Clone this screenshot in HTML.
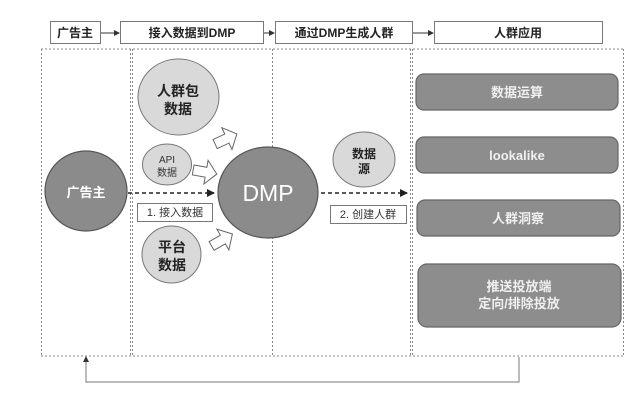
<!DOCTYPE html>
<html><head><meta charset="utf-8"><style>
html,body{margin:0;padding:0;background:#fff;}
svg{display:block;}
text{font-family:"Liberation Sans","Noto Sans CJK SC",sans-serif;}
</style></head><body>
<svg width="640" height="400" viewBox="0 0 640 400" xmlns="http://www.w3.org/2000/svg">
<defs>
<marker id="ah" markerWidth="6" markerHeight="6" refX="5" refY="3" orient="auto" markerUnits="userSpaceOnUse">
<path d="M0,0 L6,3 L0,6 z" fill="#333"/>
</marker>
<marker id="ah2" markerWidth="8" markerHeight="8" refX="7" refY="4" orient="auto" markerUnits="userSpaceOnUse">
<path d="M0,0 L8,4 L0,8 z" fill="#222"/>
</marker>
</defs>
<rect width="640" height="400" fill="#fff"/>

<!-- header boxes -->
<g stroke="#777" stroke-width="1" fill="#fff">
<rect x="50.5" y="21.5" width="50" height="22"/>
<rect x="120.5" y="21.5" width="143" height="22"/>
<rect x="275.5" y="21.5" width="137" height="22"/>
<rect x="434.5" y="21.5" width="168" height="22"/>
</g>
<g font-size="12" font-weight="bold" fill="#222" text-anchor="middle">
<text x="75" y="37">广告主</text>
<text x="192" y="37">接入数据到DMP</text>
<text x="344" y="37">通过DMP生成人群</text>
<text x="518" y="37">人群应用</text>
</g>
<g stroke="#333" stroke-width="1">
<line x1="101" y1="33" x2="119" y2="33" marker-end="url(#ah)"/>
<line x1="264" y1="33" x2="274" y2="33" marker-end="url(#ah)"/>
<line x1="413" y1="33" x2="433" y2="33" marker-end="url(#ah)"/>
</g>

<!-- dotted containers -->
<g stroke="#888" stroke-width="1" stroke-dasharray="2,2" fill="none">
<line x1="41" y1="49" x2="623" y2="49"/>
<line x1="41" y1="356" x2="623" y2="356"/>
<line x1="41.5" y1="49" x2="41.5" y2="356"/>
<line x1="130.5" y1="49" x2="130.5" y2="356"/>
<line x1="132.5" y1="49" x2="132.5" y2="356"/>
<line x1="272.5" y1="49" x2="272.5" y2="356"/>
<line x1="410.5" y1="49" x2="410.5" y2="356"/>
<line x1="412.5" y1="49" x2="412.5" y2="356"/>
<line x1="623.5" y1="49" x2="623.5" y2="356"/>
</g>

<!-- feedback line -->
<g stroke="#777" stroke-width="1" fill="none">
<polyline points="519,357 519,382 86,382 86,360"/>
</g>
<path d="M83,362 L86,356 L89,362 z" fill="#333"/>

<!-- circles -->
<ellipse cx="86" cy="191" rx="41" ry="40" fill="#8b8b8b" stroke="#555" stroke-width="1.2"/>
<ellipse cx="178.5" cy="97" rx="40.5" ry="38" fill="#d9d9d9" stroke="#777" stroke-width="1"/>
<ellipse cx="167" cy="164.5" rx="24.5" ry="20.5" fill="#d9d9d9" stroke="#777" stroke-width="1"/>
<ellipse cx="171.5" cy="254.5" rx="29.5" ry="28.5" fill="#d9d9d9" stroke="#777" stroke-width="1"/>
<ellipse cx="268" cy="192.5" rx="50" ry="45.5" fill="#8b8b8b" stroke="#555" stroke-width="1.2"/>
<ellipse cx="364" cy="159.5" rx="31" ry="27.5" fill="#d9d9d9" stroke="#777" stroke-width="1"/>

<g text-anchor="middle">
<text x="86" y="197" font-size="13" font-weight="bold" fill="#fff">广告主</text>
<text x="178" y="96" font-size="14" font-weight="bold" fill="#222">人群包</text>
<text x="178" y="114" font-size="14" font-weight="bold" fill="#222">数据</text>
<text x="167" y="163" font-size="10" fill="#333">API</text>
<text x="167" y="176" font-size="10" fill="#333">数据</text>
<text x="172" y="252" font-size="14" font-weight="bold" fill="#222">平台</text>
<text x="172" y="270" font-size="14" font-weight="bold" fill="#222">数据</text>
<text x="268" y="201" font-size="23" fill="#fff">DMP</text>
<text x="364" y="158" font-size="12" font-weight="bold" fill="#222">数据</text>
<text x="364" y="173" font-size="12" font-weight="bold" fill="#222">源</text>
</g>

<!-- hollow block arrows -->
<g fill="#fff" stroke="#666" stroke-width="1">
<path d="M-12,-5 L1,-5 L1,-12 L12,0 L1,12 L1,5 L-12,5 z" transform="translate(226,139) rotate(-25)"/>
<path d="M-12,-5 L1,-5 L1,-12 L12,0 L1,12 L1,5 L-12,5 z" transform="translate(205,172) rotate(10)"/>
<path d="M-12,-5 L1,-5 L1,-12 L12,0 L1,12 L1,5 L-12,5 z" transform="translate(222,240) rotate(-30)"/>
</g>

<!-- dashed arrows -->
<g stroke="#222" stroke-width="1.6" stroke-dasharray="4,3">
<line x1="128" y1="193" x2="214" y2="193" marker-end="url(#ah2)"/>
<line x1="321" y1="193" x2="407" y2="193" marker-end="url(#ah2)"/>
</g>

<!-- label boxes -->
<rect x="137.5" y="203.5" width="75" height="18" fill="#fff" stroke="#777"/>
<rect x="330.5" y="205.5" width="76" height="18" fill="#fff" stroke="#777"/>
<g font-size="11" fill="#333" text-anchor="middle">
<text x="175" y="216">1. 接入数据</text>
<text x="368" y="218">2. 创建人群</text>
</g>

<!-- right rounded boxes -->
<g fill="#8d8d8d" stroke="#666" stroke-width="1.2">
<rect x="416" y="74" width="202" height="36" rx="8"/>
<rect x="416" y="137" width="202" height="36" rx="8"/>
<rect x="417" y="200" width="203" height="36" rx="8"/>
<rect x="418" y="264" width="203" height="63" rx="9"/>
</g>
<g font-size="13" font-weight="bold" fill="#f0f0f0" text-anchor="middle">
<text x="517" y="97">数据运算</text>
<text x="517" y="160">lookalike</text>
<text x="518" y="223">人群洞察</text>
<text x="519" y="291">推送投放端</text>
<text x="519" y="308">定向/排除投放</text>
</g>
</svg>
</body></html>
